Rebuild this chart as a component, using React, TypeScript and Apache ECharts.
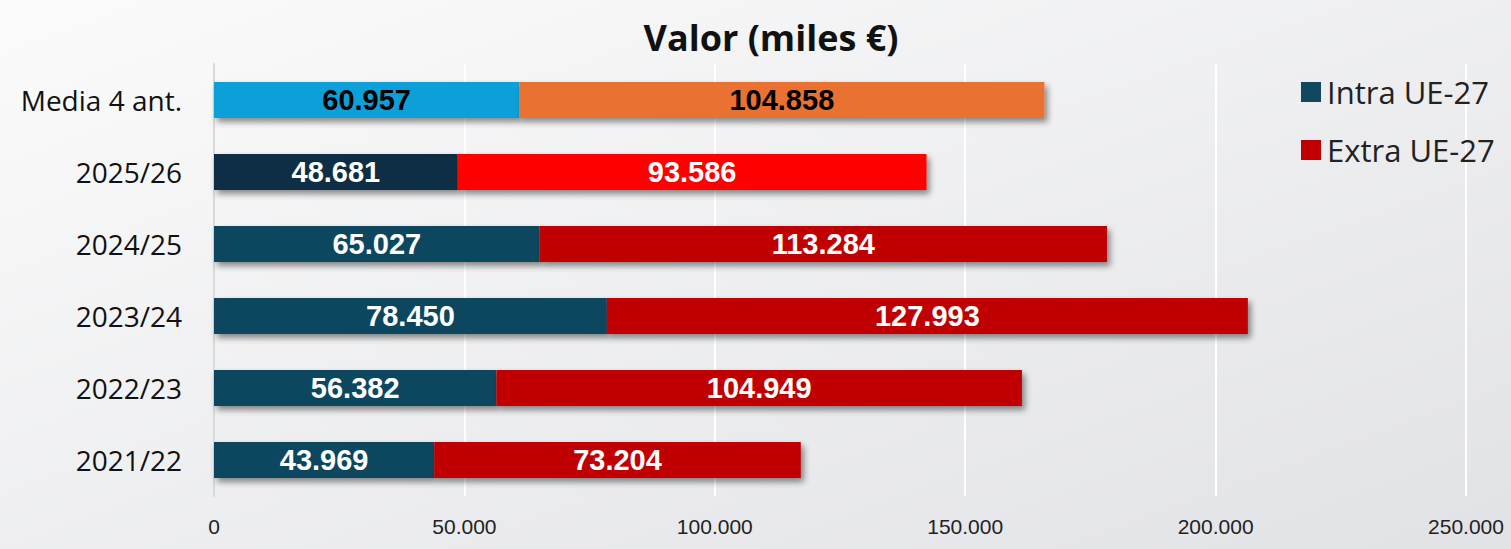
import React, { useEffect, useRef } from "react";
import * as echarts from "echarts";

const categories = ["2021/22", "2022/23", "2023/24", "2024/25", "2025/26", "Media 4 ant."];
const intraValues = [43969, 56382, 78450, 65027, 48681, 60957];
const extraValues = [73204, 104949, 127993, 113284, 93586, 104858];
const xTicks = { min: 0, max: 250000, interval: 50000 };

const intraColors = ["#11475F", "#11475F", "#11475F", "#11475F", "#0F2F44", "#11A0D8"];
const extraColors = ["#C00000", "#C00000", "#C00000", "#C00000", "#FF0000", "#E97132"];
const labelColors = ["#FFFFFF", "#FFFFFF", "#FFFFFF", "#FFFFFF", "#FFFFFF", "#000000"];

const fmt = (v: number) => String(Math.round(v)).replace(/\B(?=(\d{3})+(?!\d))/g, ".");

const shadow = {
  shadowColor: "rgba(0,0,0,0.45)",
  shadowBlur: 6,
  shadowOffsetX: 3,
  shadowOffsetY: 4,
};

function makeData(values: number[], colors: string[]) {
  return values.map((v, i) => ({
    value: v,
    itemStyle: { color: colors[i], ...shadow },
    label: { color: labelColors[i] },
  }));
}

export default function App() {
  const ref = useRef<HTMLDivElement>(null);
  useEffect(() => {
    if (!ref.current) return;
    const chart = echarts.init(ref.current, undefined, { renderer: "svg" });
    const labelCfg = {
      show: true,
      position: "inside",
      fontFamily: "Liberation Sans, Arial, sans-serif",
      fontWeight: "bold",
      fontSize: 29,
      formatter: (p: any) => fmt(p.value),
    };
    chart.setOption({
      animation: false,
      backgroundColor: {
        type: "linear",
        x: 0,
        y: 0,
        x2: 1,
        y2: 1,
        colorStops: [
          { offset: 0, color: "#FBFBFB" },
          { offset: 1, color: "#E1E2E6" },
        ],
      },
      title: {
        text: "Valor (miles €)",
        left: 766,
        textAlign: "center",
        top: 14,
        textStyle: {
          fontFamily: "Open Sans, sans-serif",
          fontWeight: "bold",
          fontSize: 36,
          color: "#111111",
        },
      },
      legend: {
        orient: "vertical",
        left: 1296,
        top: 71,
        itemWidth: 20,
        itemHeight: 20,
        itemGap: 26,
        icon: "rect",
        textStyle: {
          fontFamily: "Open Sans, sans-serif",
          fontSize: 31,
          lineHeight: 32,
          color: "#222222",
          padding: [0, 0, 0, 1],
        },
        data: [
          { name: "Intra UE-27", itemStyle: { color: "#11475F" } },
          { name: "Extra UE-27", itemStyle: { color: "#C00000" } },
        ],
      },
      grid: { left: 214, right: 45, top: 64, height: 432, containLabel: false },
      xAxis: {
        type: "value",
        min: xTicks.min,
        max: xTicks.max,
        interval: xTicks.interval,
        axisLine: { show: false },
        axisTick: { show: false },
        splitLine: { show: true, lineStyle: { color: "#FFFFFF", width: 2 } },
        axisLabel: {
          formatter: (v: number) => fmt(v),
          fontFamily: "Liberation Sans, Arial, sans-serif",
          fontSize: 21,
          color: "#222222",
          margin: 20,
        },
      },
      yAxis: {
        type: "category",
        data: categories,
        axisLine: { show: true, lineStyle: { color: "#D9D9D9", width: 2 } },
        axisTick: { show: false },
        axisLabel: {
          fontFamily: "Open Sans, sans-serif",
          fontSize: 28,
          color: "#111111",
          margin: 32,
        },
      },
      series: [
        {
          name: "Intra UE-27",
          type: "bar",
          stack: "total",
          barWidth: 36,
          data: makeData(intraValues, intraColors),
          label: labelCfg,
          itemStyle: { color: "#11475F" },
        },
        {
          name: "Extra UE-27",
          type: "bar",
          stack: "total",
          barWidth: 36,
          data: makeData(extraValues, extraColors),
          label: labelCfg,
          itemStyle: { color: "#C00000" },
        },
      ],
    });
    return () => chart.dispose();
  }, []);
  return (
    <div
      ref={ref}
      style={{ position: "fixed", left: 0, top: 0, width: 1511, height: 549 }}
    />
  );
}
